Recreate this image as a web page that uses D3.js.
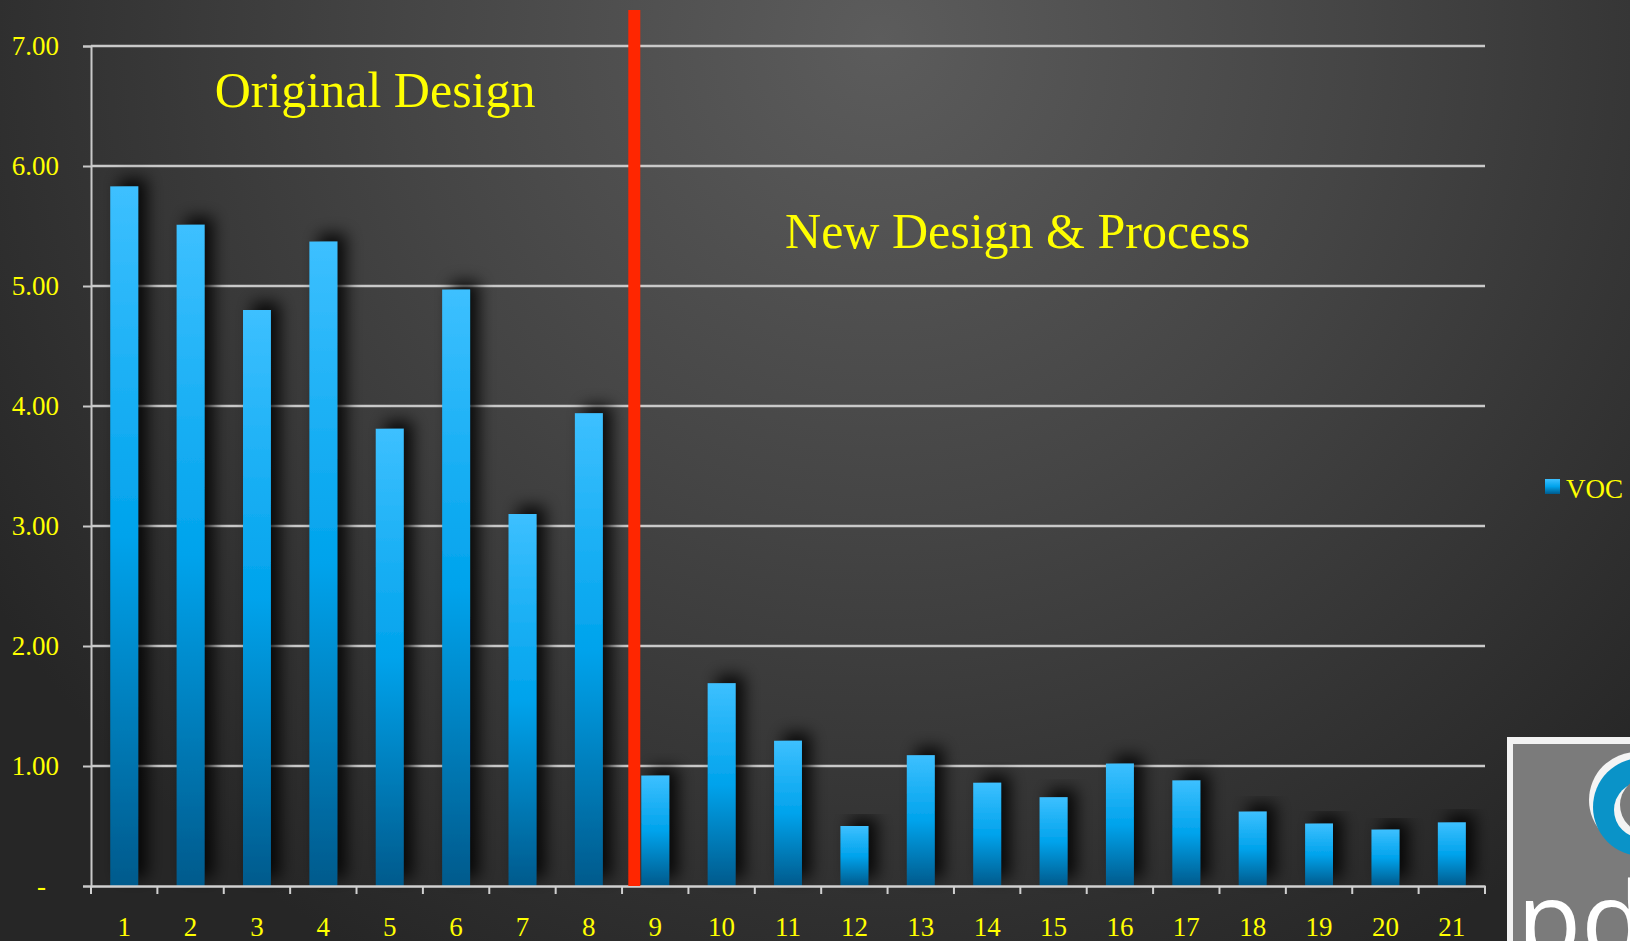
<!DOCTYPE html>
<html>
<head>
<meta charset="utf-8">
<script src="https://cdn.jsdelivr.net/npm/d3@7"></script>
<style>
  html, body { margin: 0; padding: 0; background: #2a2a2a; overflow: hidden; }
  svg { display: block; }
</style>
</head>
<body>
<svg id="chart" width="1630" height="941"></svg>
<script>
// ---- Data ----
const categories = ["1","2","3","4","5","6","7","8","9","10","11","12","13","14","15","16","17","18","19","20","21"];
const vocValues = [5.83, 5.51, 4.80, 5.37, 3.81, 4.97, 3.10, 3.94, 0.92, 1.69, 1.21, 0.50, 1.09, 0.86, 0.74, 1.02, 0.88, 0.62, 0.52, 0.47, 0.53];
const yTicks = [0, 1, 2, 3, 4, 5, 6, 7];
const seriesName = "VOC";
const dividerBefore = "9";           // red line separates original and new design
const annotations = [
  { text: "Original Design", cat: "5", frac: 0.28, value: 6.49 },
  { text: "New Design & Process", cat: "15", frac: -0.04, value: 5.32 }
];

// ---- Setup ----
const W = 1630, H = 941;
const svg = d3.select("#chart");
const defs = svg.append("defs");

const bg = defs.append("radialGradient").attr("id", "bg")
  .attr("gradientUnits", "userSpaceOnUse")
  .attr("cx", 880).attr("cy", 40).attr("r", 1050);
bg.append("stop").attr("offset", "0%").attr("stop-color", "#5c5c5c");
bg.append("stop").attr("offset", "45%").attr("stop-color", "#454545");
bg.append("stop").attr("offset", "100%").attr("stop-color", "#262626");

const barGrad = defs.append("linearGradient").attr("id", "barGrad")
  .attr("x1", 0).attr("y1", 0).attr("x2", 0).attr("y2", 1);
barGrad.append("stop").attr("offset", "0%").attr("stop-color", "#3dc0ff");
barGrad.append("stop").attr("offset", "50%").attr("stop-color", "#00a3ec");
barGrad.append("stop").attr("offset", "100%").attr("stop-color", "#005a8c");

const shadow = defs.append("filter").attr("id", "shadow")
  .attr("x", "-50%").attr("y", "-20%").attr("width", "250%").attr("height", "140%");
shadow.append("feDropShadow").attr("dx", 9).attr("dy", -8)
  .attr("stdDeviation", 8).attr("flood-color", "#000").attr("flood-opacity", 0.85);

svg.append("rect").attr("width", W).attr("height", H).attr("fill", "url(#bg)");

const plotLeft = 91, plotRight = 1485, plotTop = 46, plotBottom = 886;
const x = d3.scaleBand().domain(categories).range([plotLeft, plotRight]).padding(0);
const y = d3.scaleLinear().domain([0, 7]).range([plotBottom, plotTop]);
const barW = x.bandwidth() * 0.42;

const serif = "'Liberation Serif', 'Times New Roman', serif";
const yellow = "#ffff00";

// ---- Gridlines ----
svg.append("g").selectAll("line").data(yTicks.filter(d => d > 0)).join("line")
  .attr("x1", plotLeft).attr("x2", plotRight)
  .attr("y1", d => y(d)).attr("y2", d => y(d))
  .attr("stroke", "#c9c9c9").attr("stroke-width", 2.4);

// ---- Y axis ----
const yAxis = svg.append("g").attr("transform", `translate(${plotLeft},0)`)
  .call(d3.axisLeft(y).tickValues(yTicks).tickSize(8).tickPadding(24)
    .tickFormat(d => d === 0 ? "-" : d3.format(".2f")(d)));
yAxis.select(".domain").attr("stroke", "#c9c9c9").attr("stroke-width", 2);
yAxis.selectAll(".tick line").attr("stroke", "#c9c9c9").attr("stroke-width", 2);
yAxis.selectAll(".tick text").attr("fill", yellow).attr("font-family", serif)
  .attr("font-size", 27).attr("dy", "0.3em");
yAxis.selectAll(".tick text").filter(d => d === 0).attr("x", -45);

// ---- Bars ----
svg.append("g").selectAll("rect").data(vocValues).join("rect")
  .attr("x", (d, i) => x(categories[i]) + (x.bandwidth() - barW) / 2)
  .attr("y", d => y(d))
  .attr("width", barW)
  .attr("height", d => y(0) - y(d))
  .attr("fill", "url(#barGrad)")
  .attr("filter", "url(#shadow)");

// ---- X axis ----
const xAxis = svg.append("g").attr("transform", `translate(0,${plotBottom})`)
  .call(d3.axisBottom(x).tickSize(0).tickPadding(0));
xAxis.select(".domain").attr("stroke", "#d0d0d0").attr("stroke-width", 2.4);
xAxis.selectAll(".tick text").attr("fill", yellow).attr("font-family", serif)
  .attr("font-size", 27).attr("y", 50).attr("dy", 0);
const boundaries = categories.map(c => x(c)).concat([x(categories[categories.length - 1]) + x.bandwidth()]);
svg.append("g").selectAll("line").data(boundaries).join("line")
  .attr("x1", d => d).attr("x2", d => d)
  .attr("y1", plotBottom).attr("y2", plotBottom + 8)
  .attr("stroke", "#d0d0d0").attr("stroke-width", 2);

// ---- Red divider ----
const divX = x(dividerBefore) + (x.bandwidth() - barW) / 2 - 13;
svg.append("rect").attr("x", divX).attr("y", 10).attr("width", 12)
  .attr("height", plotBottom - 10).attr("fill", "#ff2600");

// ---- Annotations ----
svg.append("g").selectAll("text").data(annotations).join("text")
  .attr("x", d => x(d.cat) + x.bandwidth() * d.frac)
  .attr("y", d => y(d.value))
  .attr("text-anchor", "middle")
  .attr("fill", yellow).attr("font-family", serif).attr("font-size", 50)
  .text(d => d.text);

// ---- Legend ----
const legend = svg.append("g").attr("transform", "translate(1545,479)");
legend.append("rect").attr("width", 15).attr("height", 15).attr("fill", "url(#barGrad)");
legend.append("text").attr("x", 21).attr("y", 19).attr("fill", yellow)
  .attr("font-family", serif).attr("font-size", 27).text(seriesName);

// ---- Logo (partially cropped at bottom-right) ----
const logo = svg.append("g");
logo.append("rect").attr("x", 1507).attr("y", 737).attr("width", 140).attr("height", 220).attr("fill", "#f2f2f2");
logo.append("rect").attr("x", 1513).attr("y", 744).attr("width", 130).attr("height", 210).attr("fill", "#7b7b7b");
logo.append("circle").attr("cx", 1637).attr("cy", 800).attr("r", 48).attr("fill", "#f4f4f4");
logo.append("circle").attr("cx", 1642).attr("cy", 807).attr("r", 49).attr("fill", "#0a93c8");
logo.append("circle").attr("cx", 1642).attr("cy", 810).attr("r", 28).attr("fill", "#f4f4f4");
logo.append("circle").attr("cx", 1648).attr("cy", 805).attr("r", 28).attr("fill", "#7b7b7b");
logo.append("text").attr("x", 1517).attr("y", 957).attr("fill", "#ffffff")
  .attr("font-family", "'Open Sans', 'DejaVu Sans', sans-serif").attr("font-size", 105).text("pd");
</script>
</body>
</html>
